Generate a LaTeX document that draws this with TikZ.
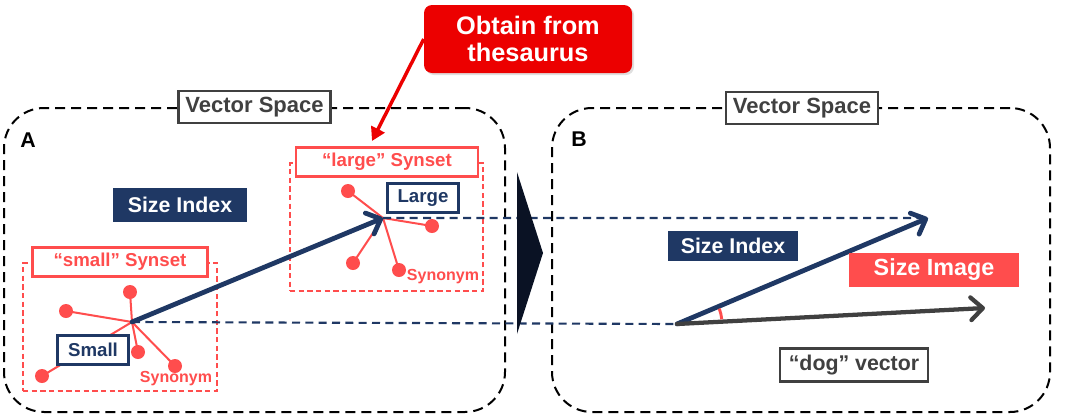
\documentclass[tikz,border=0pt]{standalone}
\usepackage{fontspec}
\setmainfont{Liberation Sans}
\usepackage{tikz}
\usetikzlibrary{arrows.meta,shadows}
\definecolor{navy}{RGB}{31,56,100}
\definecolor{synred}{RGB}{255,77,77}
\definecolor{callred}{RGB}{236,0,0}
\definecolor{boxgray}{RGB}{64,64,64}
\definecolor{tipblack}{RGB}{10,18,36}
\newcommand{\dotsize}{10.5pt}
\newcommand{\fsz}[1]{\fontsize{#1}{#1}\selectfont}

\begin{document}
\begin{tikzpicture}[x=0.75pt, y=-0.75pt,
    panel/.style={draw=black, line width=1.5pt, dash pattern=on 7.5pt off 4.5pt, rounded corners=30pt, inner sep=0pt},
    spacelabel/.style={draw=boxgray, line width=2.2pt, fill=white, text=boxgray, font=\bfseries\fsz{16.5}, minimum width=114pt, minimum height=24pt, inner sep=0pt},
    navybox/.style={fill=navy, text=white, font=\bfseries\fsz{16}, minimum height=24pt, inner sep=0pt},
    synset/.style={draw=synred, line width=1.1pt, dash pattern=on 4pt off 2.5pt, inner sep=0pt},
    syntitle/.style={draw=synred, line width=2pt, fill=white, text=synred, font=\bfseries\fsz{14}, minimum height=21.5pt, inner sep=0pt},
    word/.style={draw=navy, line width=2.2pt, fill=white, text=navy, font=\bfseries\fsz{14}, minimum width=53pt, minimum height=21.5pt, inner sep=0pt},
    dot/.style={circle, fill=synred, inner sep=0pt, minimum size=\dotsize},
    spoke/.style={synred, line width=1.5pt},
    syn/.style={text=synred, font=\bfseries\fsz{12}},
    letter/.style={font=\bfseries\fsz{16}},
    guide/.style={navy, line width=1.6pt, dash pattern=on 6pt off 4pt},
    vec/.style={line width=3.6pt, line cap=round, -{Straight Barb[length=9pt,width=17pt,round]}}
  ]
      \useasboundingbox (0,0) rectangle (1065,415);

          %%  the two vector spaces  %%
      \node (panA) at (254.5,260) [panel, minimum width=375.75pt, minimum height=228pt] {};
      \node (panB) at (801,260) [panel, minimum width=373.5pt, minimum height=228pt] {};
      \node (spaceA) at (panA.north) [spacelabel] {Vector Space};
      \node (spaceB) at (802,108) [spacelabel] {Vector Space};
      \node (labA) at (28,140) [letter] {A};
      \node (labB) at (579,139) [letter] {B};

      \node (sizeA) at (180,205) [navybox, minimum width=100.5pt, minimum height=25.5pt] {Size Index};

          %%  synsets  %%
      \node (setS) at (120,327) [synset, minimum width=145.5pt, minimum height=96pt] {};
      \node (setL) at (386.5,227) [synset, minimum width=144.75pt, minimum height=96pt] {};
      \node (titleS) at (120,262) [syntitle, minimum width=131pt] {“small” Synset};
      \node (titleL) at (387,162) [syntitle, minimum width=136.5pt] {“large” Synset};

      \coordinate (sc) at (132,322);
      \foreach \n/\x/\y in {1/66/311, 2/130/292, 3/138/352, 4/175/366, 5/42/376}
      { \draw[spoke] (sc) to (\x,\y);
        \node (s\n) at (\x,\y) [dot] {};}

      \coordinate (lc) at (383,218);
      \foreach \n/\x/\y in {1/348/191, 2/432/226, 3/353/263, 4/399/270}
      { \draw[spoke] (lc) to (\x,\y);
        \node (l\n) at (\x,\y) [dot] {};}

      \node (small) at (93,350) [word] {Small};
      \node (large) at (423,198) [word] {Large};
      \node (synS) at (176,379) [syn] {Synonym};
      \node (synL) at (443,277) [syn] {Synonym};

          %%  projection onto B  %%
      \coordinate (bo) at (677,324);
      \coordinate (bt) at (928,218);
      \coordinate (dt) at (985,308);
      \draw[guide] (lc) to (bt) (sc) to (bo);
      \draw[vec, navy] (sc) to (lc);

      \fill[tipblack] (517,172) -- (543,253) -- (517,334) -- cycle;

      \draw[vec, navy] (bo) to (bt);
      \draw[vec, boxgray, line width=3.2pt] (bo) to (dt);
      \draw[synred, line width=2.2pt] (bo) ++(-6:45) arc[start angle=-6, end angle=-20, radius=45];

      \node (sizeB) at (733,246) [navybox, minimum width=97.5pt, minimum height=23pt] {Size Index};
      \node (image) at (934,270) [fill=synred, text=white, font=\bfseries\fsz{17.5}, minimum width=127.5pt, minimum height=26pt, inner sep=0pt] {Size Image};
      \node (dog) at (854,365) [draw=boxgray, line width=2.2pt, fill=white, text=boxgray, font=\bfseries\fsz{16}, minimum width=111pt, minimum height=24.5pt, inner sep=0pt] {“dog” vector};

          %%  thesaurus callout  %%
      \coordinate (thestip) at (372,141);
      \node (thes) at (528,39) [fill=callred, text=white, rounded corners=6pt, align=center, font=\bfseries\fontsize{19}{20.5}\selectfont, minimum width=156pt, minimum height=51pt, inner sep=0pt, drop shadow={opacity=0.25, shadow xshift=1.5pt, shadow yshift=-1.5pt}] {Obtain from\\thesaurus};
      \draw[callred, line width=2.6pt, -{Triangle[length=10pt,width=11pt]}] (thes.west) to (thestip);
\end{tikzpicture}
\end{document}
